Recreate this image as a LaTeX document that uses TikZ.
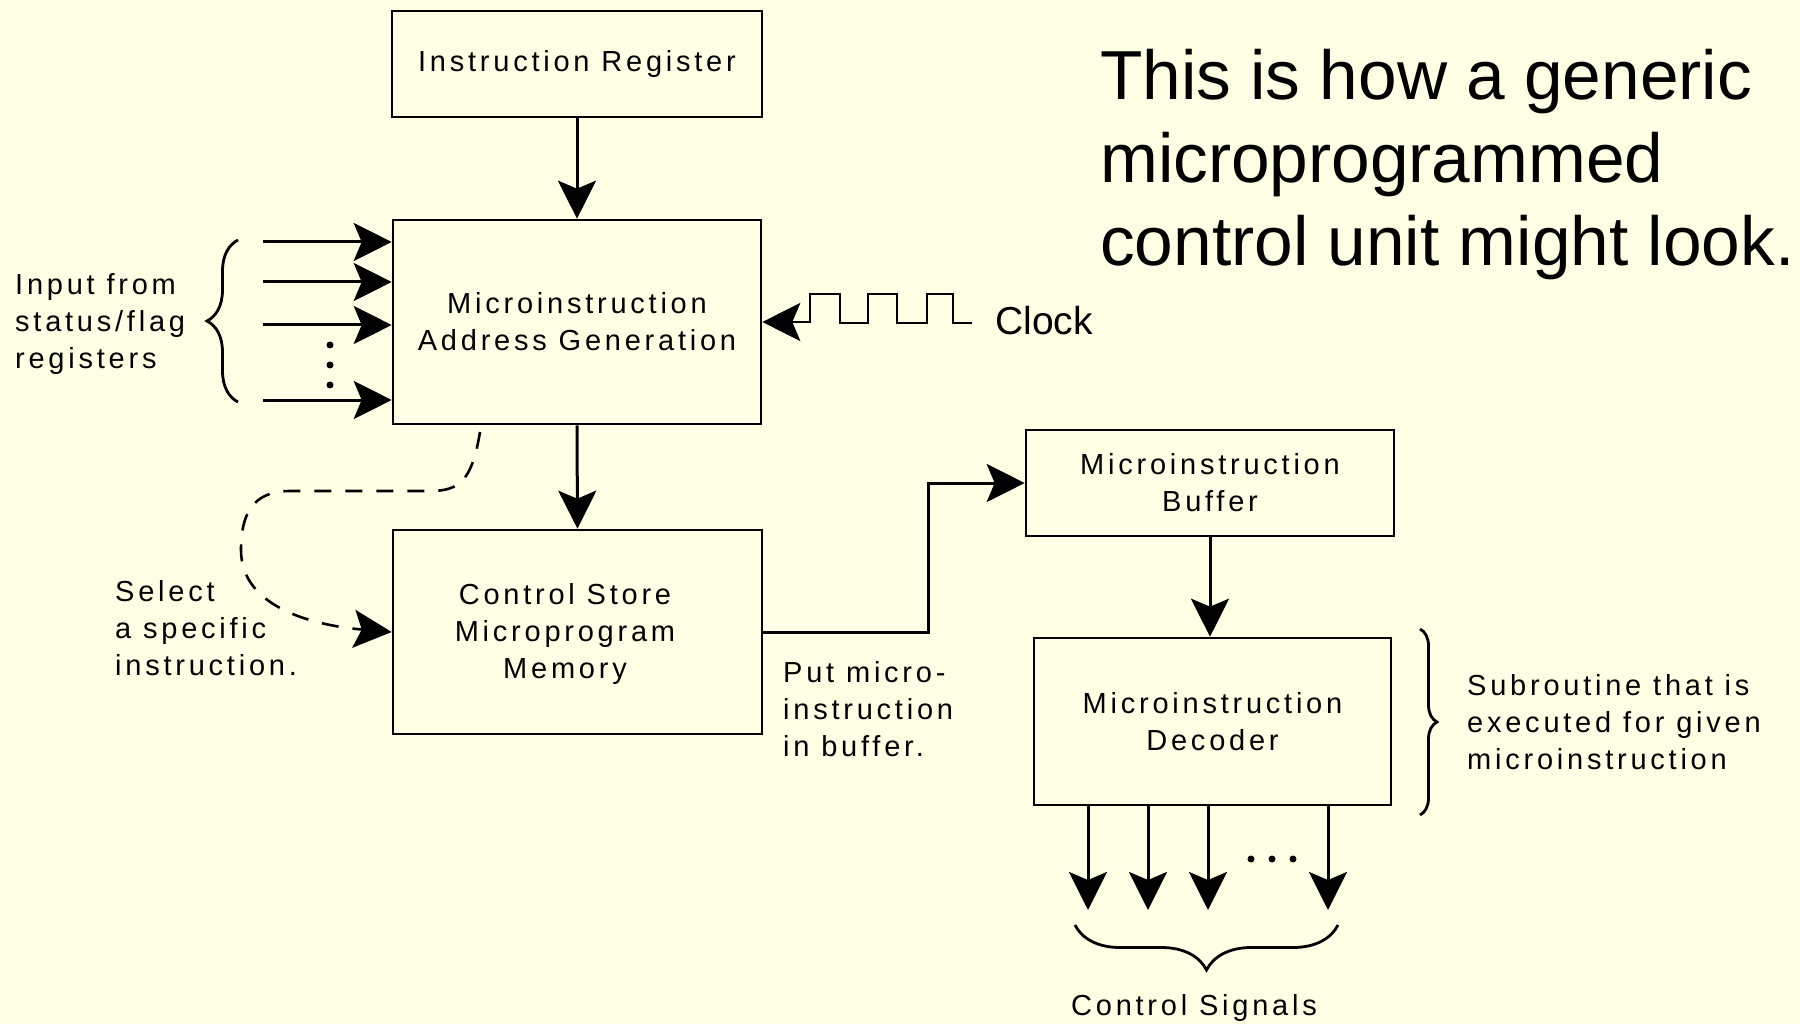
\documentclass[tikz,border=0pt]{standalone}
\usepackage{fontspec}
\setmainfont{Liberation Sans}
\newfontfamily\lblfont[LetterSpace=13]{Liberation Sans}
\usetikzlibrary{arrows.meta,decorations.pathreplacing,calc}
\definecolor{paper}{RGB}{255,255,230}

\begin{document}
\begin{tikzpicture}[x=1pt,y=-1pt,
  box/.style={draw,line width=2.6pt,inner sep=0pt,align=center,
    font=\lblfont\fontsize{29}{37}\selectfont},
  lbl/.style={font=\lblfont\fontsize{29}{37}\selectfont,align=center,inner sep=0pt},
  note/.style={font=\lblfont\fontsize{29}{37}\selectfont,align=left,inner sep=0pt,anchor=base west},
  conn/.style={line width=3pt,-{Stealth[length=38pt,width=38pt,inset=8pt]}},
  brc/.style={line width=2.8pt,decorate,decoration={brace,amplitude=#1}},
  dot/.style={fill,circle,inner sep=0pt,minimum size=7pt},
]
% page
\fill[paper] (0,0) rectangle (1800,1024);
\useasboundingbox (0,0) rectangle (1800,1024);

% blocks
\node[box,minimum width=370pt,minimum height=106pt] (ir) at (577,64) {Instruction Register};
\node[box,minimum width=368pt,minimum height=204pt] (ag) at (577,322) {Microinstruction\\Address Generation};
\node[box,minimum width=369pt,minimum height=204pt] (cs) at (577.5,632) {};
\node[lbl] (cst) at (565,634) {Control Store\\Microprogram\\Memory};
\node[box,minimum width=368pt,minimum height=106pt] (buf) at (1210,483) {Microinstruction\\Buffer};
\node[box,minimum width=357pt,minimum height=167pt] (dec) at (1212.5,721.5) {Microinstruction\\Decoder};

% title (anchored at the baseline of its last line)
\node[anchor=base west,align=left,inner sep=0pt,font=\fontsize{69.4}{83}\selectfont] (title) at (1100,266)
  {This is how a generic\\microprogrammed\\control unit might look.};

% side notes (anchored at the baseline of their last line)
\node[note] (inp) at (15,369) {Input from\\status/flag\\registers};
\node[note] (sel) at (115,675) {Select\\a specific\\instruction.};
\node[note] (put) at (783,756) {Put micro-\\instruction\\in buffer.};
\node[note] (sub) at (1467,769) {Subroutine that is\\executed for given\\microinstruction};
\node[lbl,anchor=base] (sig) at (1194,1015) {Control Signals};
\node[anchor=west,inner sep=0pt,font=\fontsize{39}{45}\selectfont] (clk) at (995,321) {Clock};

% main flow
\draw[conn] (ir.south) -- (ag.north);
\draw[conn] (ag.south) -- (cs.north);
\coordinate (bend) at (928,632);
\draw[conn] (cs.east) -- (bend) |- (buf.west);
\draw[conn] (buf.south) -- (buf.south |- dec.north);

% status/flag inputs
\foreach \n/\y in {1/242,2/282,3/325,4/400}{
  \coordinate (in\n) at (263,\y);
  \draw[conn] (in\n) -- (in\n -| ag.west);
}
\foreach \y in {345,365,385} \node[dot] at (330,\y) {};
\draw[brc=31] (238,402) -- (238,240);

% clock waveform
\coordinate (clkw) at (972,323);
\draw[conn,line width=2.7pt] (clkw) -- (953,323) -- (953,294) -- (927,294) -- (927,323)
  -- (897,323) -- (897,294) -- (868,294) -- (868,323) -- (840,323) -- (840,294)
  -- (810,294) -- (810,322) -- (ag.east);

% dashed selection path
\coordinate (selstart) at (480,432);
\draw[conn,line width=2.6pt,dash pattern=on 17pt off 14pt] (selstart)
  .. controls (472,480) and (460,491) .. (430,491) -- (290,491)
  .. controls (252,491) and (241,515) .. (241,550)
  .. controls (241,610) and (320,626) .. (cs.west);

% decoder outputs
\foreach \n/\x in {1/1088,2/1148,3/1208,4/1328}{
  \coordinate (out\n) at (\x,910);
  \draw[conn] (out\n |- dec.south) -- (out\n);
}
\foreach \x in {1251,1272,1293} \node[dot] at (\x,859) {};
\draw[brc=45] (1338,925) -- (1075,925);
\draw[brc=17] (1420,629) -- (1420,815);
\end{tikzpicture}
\end{document}
